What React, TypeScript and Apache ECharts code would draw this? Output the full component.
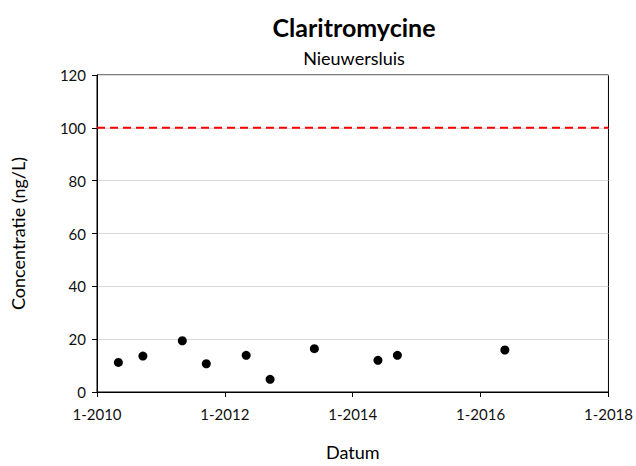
import React, { useEffect, useRef } from "react";
import * as echarts from "echarts";

const sampleDates = [
  "2010-05-03", "2010-09-20", "2011-05-03", "2011-09-17", "2012-05-02",
  "2012-09-16", "2013-05-27", "2014-05-25", "2014-09-13", "2016-05-19",
];
const concentrations = [11.2, 13.6, 19.4, 10.7, 13.9, 4.8, 16.4, 12.0, 13.9, 15.9];
const yearTicks = [2010, 2012, 2014, 2016, 2018];
const limitValue = 100;

function toYear(d: string): number {
  const t = new Date(d + "T00:00:00Z");
  const y = t.getUTCFullYear();
  const start = Date.UTC(y, 0, 1);
  const end = Date.UTC(y + 1, 0, 1);
  return y + (t.getTime() - start) / (end - start);
}

const FONT = "Lato, 'Open Sans', sans-serif";

export default function App() {
  const ref = useRef<HTMLDivElement>(null);
  useEffect(() => {
    if (!ref.current) return;
    const chart = echarts.init(ref.current, undefined, { renderer: "svg" });
    const pts = sampleDates.map((d, i) => [toYear(d), concentrations[i]]);
    chart.setOption({
      animation: false,
      textStyle: { fontFamily: FONT },
      title: [
        {
          text: "Claritromycine",
          left: 349,
          top: 9,
          textAlign: "center",
          textStyle: { fontFamily: FONT, fontSize: 25, fontWeight: "bold", color: "#000" },
        },
        {
          text: "Nieuwersluis",
          left: 349,
          top: 44,
          textAlign: "center",
          textStyle: { fontFamily: FONT, fontSize: 18, fontWeight: "normal", color: "#000" },
        },
      ],
      grid: {
        left: 97,
        right: 24,
        top: 75,
        bottom: 71,
        show: true,
        borderColor: "#000",
        borderWidth: 1,
        backgroundColor: "transparent",
      },
      xAxis: {
        type: "value",
        min: yearTicks[0],
        max: yearTicks[yearTicks.length - 1],
        interval: 2,
        name: "Datum",
        nameLocation: "middle",
        nameGap: 51,
        nameTextStyle: { fontFamily: FONT, fontSize: 18, color: "#000" },
        axisLine: { lineStyle: { color: "#000", width: 1 } },
        axisTick: { show: true, length: 5, lineStyle: { color: "#000" } },
        axisLabel: {
          fontFamily: FONT,
          fontSize: 15,
          color: "#111",
          margin: 14,
          formatter: (v: number) => `1-${v}`,
        },
        splitLine: { show: false },
      },
      yAxis: {
        type: "value",
        min: 0,
        max: 120,
        interval: 20,
        name: "Concentratie (ng/L)",
        nameLocation: "middle",
        nameGap: 70,
        nameTextStyle: { fontFamily: FONT, fontSize: 18, color: "#000" },
        axisLine: { show: true, lineStyle: { color: "#000", width: 1 } },
        axisTick: { show: true, length: 5, lineStyle: { color: "#000" } },
        axisLabel: { fontFamily: FONT, fontSize: 15, color: "#111", margin: 11 },
        splitLine: { show: true, lineStyle: { color: "#d9d9d9", width: 1 } },
      },
      series: [
        {
          type: "line",
          data: [
            [yearTicks[0], limitValue],
            [yearTicks[yearTicks.length - 1], limitValue],
          ],
          symbol: "none",
          lineStyle: { color: "#ff0000", width: 2, type: [8, 5] },
          silent: true,
          z: 3,
        },
        {
          type: "scatter",
          data: pts,
          symbol: "circle",
          symbolSize: 9,
          itemStyle: { color: "#000", opacity: 1 },
          z: 4,
        },
      ],
    });
    return () => chart.dispose();
  }, []);
  return (
    <div
      ref={ref}
      style={{ position: "absolute", left: 0, top: 0, width: 636, height: 466 }}
    />
  );
}
